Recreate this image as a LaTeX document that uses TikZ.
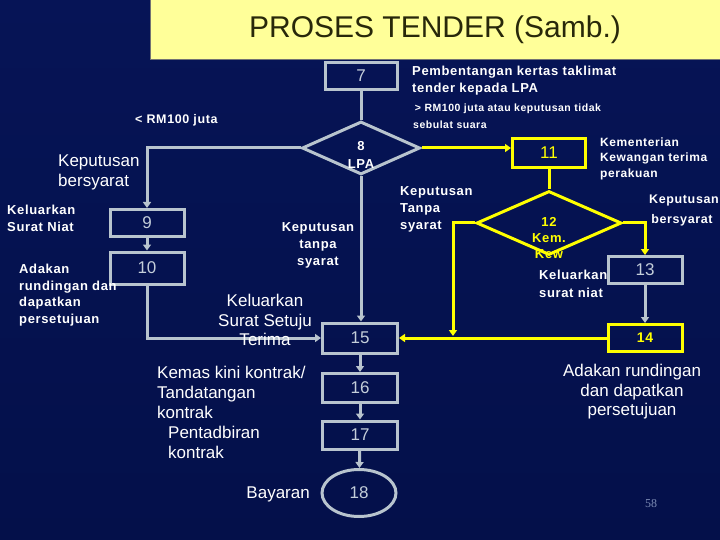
\documentclass[tikz,border=0pt]{standalone}
\usepackage{fontspec}
\setmainfont{Liberation Sans}[BoldFeatures={LetterSpace=5}]
\newfontfamily\pagefont{Liberation Serif}
\usepackage{tikz}
\usetikzlibrary{shapes.geometric,arrows.meta}
\definecolor{bgtop}{RGB}{6,20,86}
\definecolor{bgmid}{RGB}{12,42,168}
\definecolor{bgbot}{RGB}{4,16,74}
\definecolor{boxgrey}{RGB}{184,196,206}
\definecolor{numgrey}{RGB}{196,206,218}
\definecolor{flowyellow}{RGB}{255,255,0}
\definecolor{titlefill}{RGB}{255,255,153}
\definecolor{titletext}{RGB}{40,40,10}
\definecolor{pagegrey}{RGB}{125,140,180}
\tikzset{
         greybox/.style={draw=boxgrey,line width=3pt,text=numgrey,font=\fontsize{17}{20}\selectfont,inner sep=0},
         yellowbox/.style={draw=flowyellow,line width=3pt,text=flowyellow,font=\fontsize{17}{20}\selectfont,inner sep=0},
         gline/.style={draw=boxgrey,line width=3pt},
         yline/.style={draw=flowyellow,line width=3pt},
         flow/.style={-{Triangle[length=6pt,width=8pt]}},
         bigtext/.style={text=white,font=\fontsize{17}{20}\selectfont,inner sep=0},
         smalltext/.style={text=white,font=\bfseries\fontsize{13}{17}\selectfont,inner sep=0}
        }

\begin{document}
\begin{tikzpicture}[x=1pt,y=-1pt]
%background
\useasboundingbox (0,0) rectangle (720,540);
\shade[top color=bgtop,middle color=bgmid,bottom color=bgbot](0,0)rectangle(720,540);
%title
\node[fill=titlefill,draw=black!55,line width=1pt,minimum width=570,minimum height=60,inner sep=0,
      text=titletext,font=\fontsize{30}{34}\selectfont] (title) at (435,30){PROSES TENDER (Samb.)};
%boxes
\node[greybox,minimum width=72,minimum height=27] (b7) at (361,76){7};
\node[diamond,draw=boxgrey,line width=3pt,minimum width=118,minimum height=53,inner sep=0] (lpa) at (361,148){};
\node[text=white,font=\bfseries\fontsize{13}{18}\selectfont,align=center,inner sep=0] (lpanum) at (361,155){8\\LPA};
\node[greybox,minimum width=74,minimum height=27] (b9) at (147,223){9};
\node[greybox,minimum width=74,minimum height=32] (b10) at (147,268){10};
\node[yellowbox,minimum width=73,minimum height=29] (b11) at (549,153){11};
\node[diamond,draw=flowyellow,line width=3pt,minimum width=145,minimum height=64,inner sep=0] (kew) at (549,223){};
\node[text=flowyellow,font=\bfseries\fontsize{13}{16}\selectfont,align=center,inner sep=0] (kewnum) at (549,238){12\\Kem.\\Kew};
\node[greybox,minimum width=74,minimum height=27] (b13) at (645,270){13};
\node[yellowbox,minimum width=74,minimum height=27,font=\bfseries\fontsize{14}{17}\selectfont] (b14) at (645,338){14};
\node[greybox,minimum width=75,minimum height=30] (b15) at (360,338){15};
\node[greybox,minimum width=75,minimum height=29] (b16) at (360,388){16};
\node[greybox,minimum width=75,minimum height=28] (b17) at (360,435){17};
\node[greybox,ellipse,minimum width=74,minimum height=47] (b18) at (359,493){18};
\coordinate (join) at (453,336);
%connectors
\draw[gline](b7.south)--(lpa.north);
\draw[gline,flow](lpa.west)-|(b9.north);
\draw[gline,flow](b9)--(b10);
\draw[gline,flow](b10.south)|-(b15.west);
\draw[gline,flow](lpa.south)--(lpa.south|-b15.north);
\draw[yline,flow](lpa.east)--(lpa.east-|b11.west);
\draw[yline](b11.south)--(kew.north);
\draw[yline,flow](b14.west)--(b15.east);
\draw[yline,flow](kew.west)-|(join);
\draw[yline,flow](kew.east)-|(b13.north);
\draw[gline,flow](b13)--(b14);
\draw[gline,flow](b15)--(b16);
\draw[gline,flow](b16)--(b17);
\draw[gline,flow](b17)--(b18);
%labels
\node[smalltext,anchor=west,align=left] (pemb) at (412,80.5){Pembentangan kertas taklimat\\tender kepada LPA};
\node[smalltext,anchor=west,align=left,font=\bfseries\fontsize{10.5}{17}\selectfont] (over) at (413,116.5){\,> RM100 juta atau keputusan tidak\\sebulat suara};
\node[smalltext,anchor=west,font=\bfseries\fontsize{12.5}{15}\selectfont] (under) at (135,120){< RM100 juta};
\node[bigtext,anchor=west,align=left] (bersyarat) at (58,172){Keputusan\\bersyarat};
\node[smalltext,anchor=west,align=left] (niat) at (7,218.5){Keluarkan\\Surat Niat};
\node[smalltext,anchor=west,align=left,font=\bfseries\fontsize{13}{16.7}\selectfont] (runding) at (19,295){Adakan\\rundingan dan\\dapatkan\\persetujuan};
\node[smalltext,align=center] (tanpa) at (318,245){Keputusan\\tanpa\\syarat};
\node[bigtext,align=center,font=\fontsize{17}{19.5}\selectfont] (setuju) at (265,320){Keluarkan\\Surat Setuju\\Terima};
\node[smalltext,anchor=west,align=left] (tanpakew) at (400,209){Keputusan\\Tanpa\\syarat};
\node[smalltext,anchor=west,align=left,font=\bfseries\fontsize{12}{15.5}\selectfont] (kementerian) at (600,158.5){Kementerian\\Kewangan terima\\perakuan};
\node[smalltext,anchor=west,align=left,font=\bfseries\fontsize{12.5}{20}\selectfont] (bersyaratkew) at (649,210){Keputusan\\\,bersyarat};
\node[smalltext,anchor=west,align=left,font=\bfseries\fontsize{13}{18}\selectfont] (niatkew) at (539,284){Keluarkan\\surat niat};
\node[bigtext,align=center,font=\fontsize{17}{19.5}\selectfont] (rundingkew) at (632,392){Adakan rundingan\\dan dapatkan\\persetujuan};
\node[bigtext,anchor=west,align=left] (kemas) at (157,392){Kemas kini kontrak/\\Tandatangan\\kontrak};
\node[bigtext,anchor=west,align=left] (pentadbiran) at (168,442){Pentadbiran\\kontrak};
\node[bigtext,anchor=east] (bayaran) at (310,494){Bayaran};
\node[text=pagegrey,font=\pagefont\fontsize{12}{14}\selectfont,inner sep=0] (page) at (651,504){58};
\end{tikzpicture}
\end{document}
